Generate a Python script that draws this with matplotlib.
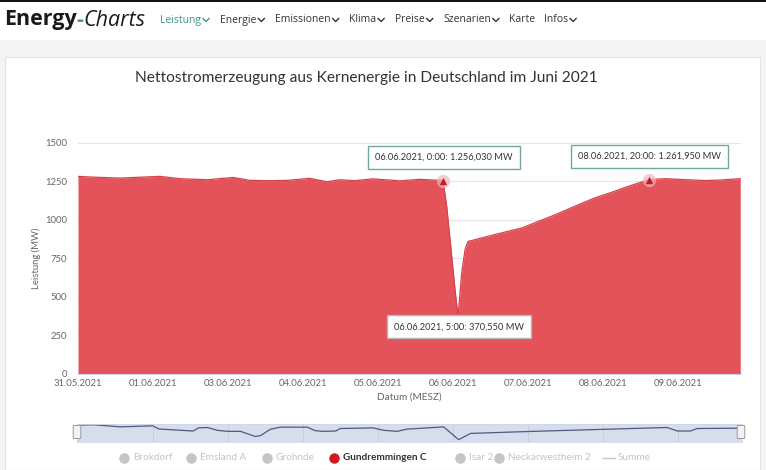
import matplotlib
matplotlib.use('Agg')
import matplotlib.pyplot as plt
from matplotlib.lines import Line2D
from matplotlib.patches import Rectangle, FancyBboxPatch

W, H = 766, 470

# main series: Gundremmingen C, position in (ordinal) days from 31.05.2021, MW
days = [0.0, 0.2, 0.56, 1.09, 1.36, 1.72, 2.07, 2.29, 2.56, 2.79, 3.09, 3.32,
        3.49, 3.69, 3.93, 4.29, 4.56, 4.867, 4.916, 4.983, 5.027, 5.067, 5.116,
        5.16, 5.19, 5.2, 5.56, 5.92, 6.36, 6.63, 6.89, 7.12, 7.33, 7.613, 7.83,
        8.09, 8.36, 8.56, 8.83]
power = [1283, 1278, 1272, 1283, 1268, 1261, 1276, 1257, 1255, 1257, 1270, 1248,
         1261, 1255, 1267, 1254, 1264, 1256.03, 1087, 762, 545, 370.55, 655,
         805, 849, 860, 905, 948, 1033, 1090, 1143, 1180, 1217, 1261.95, 1268,
         1262, 1256, 1259, 1268]

tick_pos = [0, 1, 2, 3, 4, 5, 6, 7, 8]
tick_labels = ['31.05.2021', '01.06.2021', '03.06.2021', '04.06.2021', '05.06.2021',
               '06.06.2021', '07.06.2021', '08.06.2021', '09.06.2021']
y_ticks = [0, 250, 500, 750, 1000, 1250, 1500]

# tooltips (day, value, text)
tips = [(4.867, 1256.03, '06.06.2021, 0:00: 1.256,030 MW'),
        (7.613, 1261.95, '08.06.2021, 20:00: 1.261,950 MW'),
        (5.067, 370.55, '06.06.2021, 5:00: 370,550 MW')]

# navigator (Summe, MW)
nav_days = [-0.01, 0.2, 0.56, 0.99, 1.07, 1.53, 1.6, 1.72, 1.85, 1.99, 2.16, 2.36,
            2.43, 2.56, 2.69, 3.05, 3.16, 3.27, 3.43, 3.49, 3.93, 4.07, 4.25, 4.39,
            4.43, 4.87, 5.07, 5.23, 6.07, 7.85, 7.99, 8.16, 8.25, 8.79, 8.85]
nav_sum = [8130, 8150, 8017, 8084, 7884, 7751, 7951, 7977, 7798, 7731, 7731, 7399,
           7466, 7864, 7997, 7997, 7770, 7731, 7751, 7911, 7951, 7798, 7731, 7884,
           7884, 8017, 7200, 7599, 7731, 7977, 7751, 7751, 7911, 7931, 7931]

legend_names = ['Brokdorf', 'Emsland A', 'Grohnde', 'Gundremmingen C', 'Isar 2',
                'Neckarwestheim 2', 'Summe']
nav_items = ['Leistung', 'Energie', 'Emissionen', 'Klima', 'Preise', 'Szenarien',
             'Karte', 'Infos']

RED = '#e5535a'
FONT = ['Lato', 'DejaVu Sans']


def fx(px):
    return px / W


def fy(py):
    return 1 - py / H


fig = plt.figure(figsize=(W / 100, H / 100), dpi=100)
fig.patch.set_facecolor('white')
renderer = fig.canvas.get_renderer()


def text_width(t):
    return t.get_window_extent(renderer=renderer).width


# page background, card, header
fig.add_artist(Rectangle((0, 0), 1, fy(40), transform=fig.transFigure,
                         fc='#f3f4f6', ec='none', zorder=0))
fig.add_artist(Rectangle((fx(5), 0), fx(755), fy(57), transform=fig.transFigure,
                         fc='white', ec='#e3e3e3', lw=0.8, zorder=0))
fig.add_artist(Rectangle((0, fy(2)), 1, 2 / H, transform=fig.transFigure,
                         fc='#111111', ec='none', zorder=1))

x = 4
for part, col, kw in [('Energy', '#1a1a1a', dict(fontweight='bold')),
                      ('-', '#3fa56b', dict(fontweight='bold')),
                      ('Charts', '#1a1a1a', dict(style='italic'))]:
    t = fig.text(fx(x), fy(20), part, fontsize=15.5, family='Open Sans', color=col,
                 va='center', ha='left', **kw)
    x += text_width(t)

nav_x = [160, 220, 275, 349, 395, 443, 509, 544]
for name, px in zip(nav_items, nav_x):
    col = '#3d9a8b' if name == 'Leistung' else '#333333'
    t = fig.text(fx(px), fy(20), name, fontsize=7.5, family='Open Sans',
                 color=col, va='center', ha='left')
    if name != 'Karte':
        cx = px + text_width(t) + 5
        fig.add_artist(Line2D([fx(cx - 3), fx(cx), fx(cx + 3)],
                              [fy(18.5), fy(21.5), fy(18.5)],
                              transform=fig.transFigure, color=col, lw=1))

fig.text(fx(366), fy(78), 'Nettostromerzeugung aus Kernenergie in Deutschland im Juni 2021',
         fontsize=11.2, family=FONT, color='#333333', ha='center', va='center')

# main chart
ax = fig.add_axes([fx(78), fy(373.7), fx(741 - 78), (373.7 - 143) / H])
ax.fill_between(days, power, 0, color=RED, lw=0, zorder=2)
ax.plot(days, power, color='#d2434a', lw=0.9, zorder=3)
ax.set_xlim(0, 8.84)
ax.set_ylim(0, 1500)
ax.set_yticks(y_ticks)
ax.set_yticklabels([str(v) for v in y_ticks], family=FONT, fontsize=6.8, color='#666666')
ax.set_xticks(tick_pos)
ax.set_xticklabels(tick_labels, family=FONT, fontsize=6.8, color='#666666')
ax.tick_params(length=0, pad=8)
ax.tick_params(axis='x', pad=4)
ax.grid(axis='y', color='#e6e6e6', lw=0.8, zorder=0)
for s in ax.spines.values():
    s.set_visible(False)
ax.spines['bottom'].set_visible(True)
ax.spines['bottom'].set_color('#ccd6eb')
ax.set_ylabel('Leistung (MW)', family=FONT, fontsize=6.8, color='#666666', labelpad=3)
ax.set_xlabel('Datum (MESZ)', family=FONT, fontsize=7.2, color='#666666', labelpad=3)

# tooltips
for i, (d, v, txt) in enumerate(tips):
    if i < 2:
        ax.scatter([d], [v], s=90, color='#f3b5b8', alpha=0.7, lw=0, zorder=4)
        ax.scatter([d], [v], s=28, marker='^', color='#c41a22', lw=0, zorder=5)
        ax.annotate(txt, (d, v), xytext=(1, 23), textcoords='offset pixels',
                    ha='center', va='center', fontsize=6.7, family=FONT, color='#333333',
                    bbox=dict(boxstyle='square,pad=0.75', fc='white', ec='#6fa9a0', lw=1),
                    zorder=6)
    else:
        ax.annotate(txt, (d, v), xytext=(1, -10), textcoords='offset pixels',
                    ha='center', va='center', fontsize=6.7, family=FONT, color='#333333',
                    bbox=dict(boxstyle='square,pad=0.75', fc='white', ec='#b5b5b5', lw=1),
                    zorder=6)

# navigator
nav = fig.add_axes([fx(77), fy(442), fx(742 - 77), 18 / H])
nav.set_facecolor('#d6deee')
nav.plot(nav_days, nav_sum, color='#4d5c7c', lw=0.9)
nav.set_xlim(-0.02, 8.85)
nav.set_ylim(7050, 8200)
nav.set_xticks(tick_pos)
nav.grid(axis='x', color='#c4cde0', lw=0.6)
nav.set_xticklabels([])
nav.set_yticks([])
nav.tick_params(length=0)
for s in nav.spines.values():
    s.set_color('#d0d7e6')
    s.set_lw(0.6)
for hx in (77, 741):
    fig.add_artist(FancyBboxPatch((fx(hx - 3), fy(438)), fx(6), 12 / H,
                                  boxstyle='round,pad=0.001', transform=fig.transFigure,
                                  fc='#f2f2f2', ec='#999999', lw=0.7, zorder=5))

# legend
leg_x = [124, 191, 267, 334, 460, 499]
for name, px in zip(legend_names[:-1], leg_x):
    active = name == 'Gundremmingen C'
    fig.add_artist(Line2D([fx(px)], [fy(458)], marker='o', ms=6.5,
                          color='#cc1b22' if active else '#c4c4c4',
                          transform=fig.transFigure, lw=0))
    fig.text(fx(px + 9), fy(458), name, fontsize=7.2, family=FONT,
             fontweight='bold' if active else 'normal',
             color='#333333' if active else '#c4c4c4', va='center', ha='left')
fig.add_artist(Line2D([fx(603), fx(615)], [fy(458), fy(458)], color='#c4c4c4',
                      lw=1, transform=fig.transFigure))
fig.text(fx(618), fy(458), legend_names[-1], fontsize=7.2, family=FONT,
         color='#c4c4c4', va='center', ha='left')

fig.savefig('out.png', dpi=100)
